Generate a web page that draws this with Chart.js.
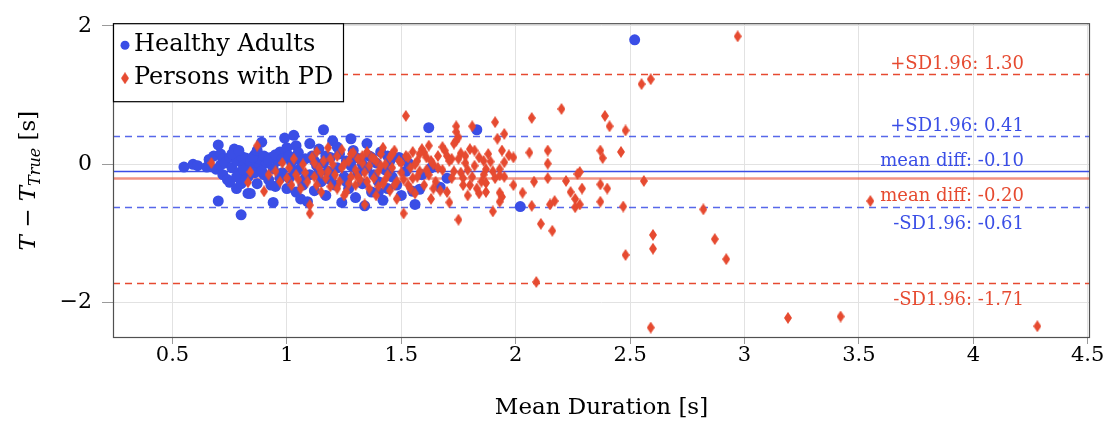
<!DOCTYPE html>
<html><head><meta charset="utf-8">
<script src="https://cdn.jsdelivr.net/npm/chart.js@4.4.1/dist/chart.umd.min.js"></script>
<style>html,body{margin:0;padding:0;background:#fff}</style>
</head><body>
<canvas id="c" width="1110" height="421" style="width:1110px;height:421px;display:block"></canvas>
<script>
// ---------- data ----------
const healthyX = [
0.55,0.59,0.61,0.65,0.66,0.68,0.70,0.71,0.72,0.69,
0.71,0.70,0.72,0.74,0.73,0.75,0.76,0.77,0.75,0.78,
0.80,0.83,0.84,0.80,0.79,0.78,0.80,0.81,0.82,0.83,
0.84,0.85,0.86,0.87,0.88,0.89,0.88,0.90,0.91,0.92,
0.93,0.94,0.94,0.95,0.96,0.97,0.98,0.99,1.00,1.01,
1.02,1.03,1.04,1.05,1.06,1.05,1.07,1.08,1.09,1.10,
1.11,1.12,1.13,1.14,1.15,1.16,1.16,1.17,1.18,1.19,
1.20,1.21,1.22,1.23,1.24,1.25,1.26,1.27,1.28,1.28,
1.29,1.30,1.31,1.32,1.33,1.34,1.35,1.35,1.36,1.37,
1.38,1.39,1.40,1.42,1.41,1.43,1.44,1.45,1.46,1.48,
1.49,1.50,1.52,1.53,1.55,1.56,1.58,1.59,1.62,1.63,
1.67,1.70,1.83,2.02,2.52,
0.76,0.78,0.79,0.81,0.82,0.85,0.86,0.87,0.89,0.90,
0.92,0.93,0.95,0.97,0.98,1.00,1.01,1.03,1.04,1.06,
1.08,1.10,1.12,1.14,1.17,1.19,1.22,1.26,1.30,1.33,
1.37,1.40,1.44];
const healthyY = [
-0.04,0.00,-0.02,-0.04,0.07,0.12,0.28,0.15,0.08,-0.07,
-0.01,-0.53,-0.15,-0.22,0.02,0.10,-0.05,0.22,-0.26,-0.35,
-0.28,-0.42,-0.42,-0.73,-0.12,0.05,0.12,-0.02,0.09,-0.18,
0.03,-0.08,0.14,-0.28,-0.02,0.32,0.08,-0.15,0.02,-0.22,
0.10,-0.55,-0.06,-0.32,0.05,0.18,-0.12,0.38,0.24,-0.20,
0.03,0.42,0.27,0.17,-0.50,-0.08,-0.30,0.08,-0.54,-0.15,
0.12,-0.38,-0.02,0.22,-0.25,0.50,0.02,-0.45,-0.10,0.10,
0.34,-0.30,-0.05,0.15,-0.55,-0.18,0.05,-0.35,0.37,-0.02,
0.20,-0.48,-0.12,0.08,-0.28,-0.60,0.30,-0.05,0.12,-0.40,
-0.15,0.02,-0.25,-0.52,0.18,-0.08,-0.35,0.05,-0.18,-0.30,
0.10,-0.45,-0.10,0.02,-0.39,-0.58,-0.36,-0.15,0.53,-0.05,
-0.33,-0.20,0.50,-0.61,1.80,
0.15,-0.18,0.20,-0.08,-0.22,0.10,-0.12,0.20,-0.10,0.12,
0.06,-0.30,0.14,-0.20,0.08,-0.35,0.12,-0.10,-0.40,0.05,
-0.20,0.30,0.05,-0.12,0.12,-0.22,0.25,-0.25,0.10,0.00,
0.10,-0.40,0.12];
const pdX = [
0.67,0.84,0.83,0.87,0.90,0.92,0.95,0.97,0.98,1.00,
1.01,1.02,1.03,1.04,1.05,1.06,1.07,1.08,1.09,1.10,
1.10,1.11,1.12,1.13,1.13,1.14,1.15,1.16,1.17,1.18,
1.18,1.19,1.20,1.21,1.22,1.23,1.24,1.24,1.25,1.26,
1.27,1.28,1.28,1.29,1.30,1.30,1.31,1.32,1.33,1.34,
1.34,1.35,1.36,1.36,1.37,1.38,1.39,1.39,1.40,1.41,
1.42,1.42,1.43,1.44,1.45,1.45,1.46,1.47,1.48,1.48,
1.49,1.50,1.51,1.52,1.52,1.53,1.54,1.55,1.55,1.56,
1.57,1.58,1.59,1.60,1.60,1.61,1.62,1.62,1.63,1.64,
1.65,1.66,1.67,1.68,1.69,1.70,1.71,1.72,1.72,1.73,
1.74,1.74,1.74,1.75,1.75,1.76,1.76,1.77,1.78,1.79,
1.80,1.81,1.81,1.82,1.83,1.84,1.85,1.86,1.87,1.87,
1.87,1.89,1.90,1.91,1.92,1.93,1.93,1.93,1.94,1.93,
1.94,1.95,1.95,1.95,1.97,1.99,1.99,2.03,2.06,2.07,
2.07,2.08,2.09,2.11,2.14,2.14,2.14,2.15,2.16,2.17,
2.20,2.22,2.24,2.26,2.26,2.27,2.28,2.28,2.29,2.37,
2.37,2.38,2.37,2.39,2.40,2.41,2.46,2.47,2.48,2.48,
2.55,2.56,2.59,2.60,2.60,2.59,2.82,2.87,2.92,2.97,
3.19,3.42,3.55,4.28,
1.66,1.68,1.70,1.71,1.73,1.75,1.77,1.78,1.79,1.80,1.82,1.84,1.86,1.88,1.90,1.91,
1.12,1.15,1.19,1.22,1.25,1.27,1.31,1.33,1.35,1.38,
1.40,1.41,1.43,1.46,1.47,1.50,1.51,1.53,1.54,1.56,
1.57,1.58,1.61,1.63,1.64];
const pdY = [
0.02,-0.11,-0.26,0.27,-0.39,-0.15,-0.10,-0.25,0.02,-0.20,
-0.05,-0.30,0.08,-0.15,-0.22,-0.35,0.00,-0.12,-0.25,-0.71,
-0.59,0.10,-0.18,0.18,-0.30,-0.05,-0.40,0.05,-0.20,0.24,
-0.10,-0.32,0.00,-0.15,0.12,-0.25,0.21,-0.05,-0.45,-0.40,
0.05,0.15,-0.18,0.17,-0.30,-0.08,0.08,-0.22,0.02,-0.58,
-0.12,0.18,-0.35,-0.02,0.10,-0.20,-0.45,0.05,-0.10,0.15,
0.24,-0.28,0.00,-0.15,0.10,-0.38,-0.05,0.20,-0.25,-0.50,
0.05,-0.12,-0.71,0.70,0.12,-0.30,-0.05,0.18,-0.20,-0.42,
0.05,-0.10,0.22,0.17,-0.30,0.10,0.27,-0.15,-0.50,0.00,
-0.25,0.12,-0.38,-0.08,0.20,0.12,-0.55,0.08,-0.20,0.30,
0.55,0.47,0.34,0.39,-0.80,-0.12,0.16,-0.30,0.02,-0.45,
0.22,0.55,-0.18,-0.02,-0.35,0.10,-0.25,0.05,-0.27,-0.07,
-0.40,0.04,-0.68,0.61,0.37,-0.07,-0.41,-0.16,-0.47,-0.54,
0.20,0.44,0.03,-0.18,0.13,0.10,-0.30,-0.41,0.17,0.67,
-0.60,-0.25,-1.70,-0.86,0.20,0.01,-0.20,-0.58,-0.96,-0.53,
0.80,-0.24,-0.40,-0.50,-0.62,-0.14,-0.11,-0.58,-0.35,-0.29,
0.20,0.09,-0.54,0.70,-0.35,0.55,0.18,-0.61,0.49,-1.31,
1.16,-0.24,1.23,-1.02,-1.22,-2.36,-0.65,-1.08,-1.37,1.85,
-2.22,-2.20,-0.53,-2.34,
-0.05,0.25,-0.40,0.05,-0.10,0.08,-0.20,0.12,-0.08,-0.30,0.20,-0.42,-0.15,0.15,-0.10,-0.20,
0.02,-0.12,0.08,-0.35,0.00,-0.28,-0.18,0.12,-0.25,0.08,
-0.32,-0.02,-0.22,0.15,-0.30,0.02,-0.22,0.10,-0.35,0.00,
-0.18,0.15,-0.08,0.05,-0.35];
const seriesNames = ['Healthy Adults', 'Persons with PD'];
const xTicks = [0.5,1,1.5,2,2.5,3,3.5,4,4.5];
const yTicks = [-2,0,2];
const limitValues = [1.30, 0.41, -0.10, -0.20, -0.61, -1.71];
const limitLabels = ['+SD1.96: 1.30','+SD1.96: 0.41','mean diff: -0.10','mean diff: -0.20','-SD1.96: -0.61','-SD1.96: -1.71'];
const limitGroup = [1,0,0,1,0,1];          // 0 = healthy, 1 = PD
const limitIsMean = [false,false,true,true,false,false];

// ---------- styles ----------
const BLUE = '#3a4ee6';
const RED = '#e64a30';
const SERIF = '"DejaVu Serif", "Liberation Serif", serif';
const labelBelow = [false,false,false,true,true,true];

function diamondImg(w,h,color){
  const c=document.createElement('canvas');c.width=w;c.height=h;
  const g=c.getContext('2d');g.fillStyle=color;g.beginPath();
  g.moveTo(w/2,0);g.lineTo(w,h/2);g.lineTo(w/2,h);g.lineTo(0,h/2);g.closePath();g.fill();
  return c;
}
const diamond = diamondImg(8,12,RED);

const toPts = (xs,ys)=>xs.slice(0,Math.min(xs.length,ys.length)).map((x,i)=>({x:x,y:ys[i]}));

const overlay = {
  id:'overlay',
  beforeDatasetsDraw(chart){
    const {ctx, chartArea:a, scales:{y}} = chart;
    ctx.save();
    limitValues.forEach((v,i)=>{
      const py = Math.round(y.getPixelForValue(v))+0.5;
      const col = limitGroup[i]===0 ? BLUE : RED;
      ctx.beginPath();
      if(limitIsMean[i]){
        ctx.setLineDash([]);
        if(limitGroup[i]===1){ctx.strokeStyle='rgba(230,74,48,0.6)';ctx.lineWidth=2.4;}
        else {ctx.strokeStyle=col;ctx.lineWidth=1.3;}
      } else {
        ctx.setLineDash([7,5]);
        ctx.strokeStyle = limitGroup[i]===0 ? 'rgba(58,78,230,0.85)' : col;
        ctx.lineWidth = 1.4;
      }
      ctx.moveTo(a.left,py);ctx.lineTo(a.right,py);ctx.stroke();
    });
    ctx.restore();
  },
  afterDatasetsDraw(chart){
    const {ctx, chartArea:a, scales:{y}} = chart;
    ctx.save();
    // frame
    ctx.strokeStyle='#505050';ctx.lineWidth=1.2;ctx.setLineDash([]);
    ctx.strokeRect(a.left+0.5,a.top+0.5,a.right-a.left-1,a.bottom-a.top-1);
    // limit labels
    ctx.font='18px '+SERIF;ctx.textAlign='right';ctx.textBaseline='middle';
    limitValues.forEach((v,i)=>{
      const py = y.getPixelForValue(v);
      ctx.fillStyle = limitGroup[i]===0 ? BLUE : RED;
      ctx.fillText(limitLabels[i], 1024, labelBelow[i] ? py+18 : py-10);
    });
    // legend
    const lx=a.left, ly=a.top;
    ctx.fillStyle='#fff';ctx.fillRect(lx,ly,230,78);
    ctx.strokeStyle='#000';ctx.lineWidth=1.2;ctx.strokeRect(lx+0.5,ly+0.5,230,78);
    ctx.fillStyle=BLUE;ctx.beginPath();ctx.arc(lx+12,ly+22,4.5,0,Math.PI*2);ctx.fill();
    ctx.drawImage(diamond,lx+8,ly+49);
    ctx.fillStyle='#000';ctx.font='24px '+SERIF;ctx.textAlign='left';ctx.textBaseline='middle';
    ctx.fillText(seriesNames[0],lx+21,ly+22);
    ctx.fillText(seriesNames[1],lx+21,ly+55);
    ctx.restore();
  },
  afterDraw(chart){
    const {ctx, chartArea:a} = chart;
    ctx.save();
    // x title
    ctx.fillStyle='#000';ctx.font='23px '+SERIF;ctx.textAlign='center';ctx.textBaseline='middle';
    ctx.fillText('Mean Duration [s]',(a.left+a.right)/2,408);
    // y title with italics and subscript
    const parts=[
      {t:'T',f:'italic 23px '+SERIF,dy:0},
      {t:' \u2212 ',f:'23px '+SERIF,dy:0},
      {t:'T',f:'italic 23px '+SERIF,dy:0},
      {t:'True',f:'italic 16px '+SERIF,dy:5},
      {t:' [s]',f:'23px '+SERIF,dy:0}];
    let w=0;parts.forEach(p=>{ctx.font=p.f;p.w=ctx.measureText(p.t).width;w+=p.w;});
    ctx.translate(35,(a.top+a.bottom)/2);ctx.rotate(-Math.PI/2);
    ctx.textAlign='left';ctx.textBaseline='alphabetic';
    let x=-w/2;parts.forEach(p=>{ctx.font=p.f;ctx.fillText(p.t,x,p.dy);x+=p.w;});
    ctx.restore();
  }
};

new Chart(document.getElementById('c'),{
  type:'scatter',
  data:{datasets:[
    {label:seriesNames[0],data:toPts(healthyX,healthyY),pointStyle:'circle',pointRadius:5.5,pointHoverRadius:5.5,
     backgroundColor:BLUE,borderWidth:0,order:1},
    {label:seriesNames[1],data:toPts(pdX,pdY),pointStyle:diamond,pointRadius:6,backgroundColor:RED,borderWidth:0,order:0}
  ]},
  options:{
    responsive:false,animation:false,devicePixelRatio:1,
    layout:{padding:{top:19,right:20,left:0,bottom:0}},
    plugins:{legend:{display:false},tooltip:{enabled:false}},
    events:[],
    scales:{
      x:{type:'linear',min:0.24,max:4.51,
        afterBuildTicks:s=>{s.ticks=xTicks.map(v=>({value:v}));},
        afterFit:s=>{s.height=83;},
        ticks:{font:{family:SERIF,size:21},color:'#000',padding:-1,maxRotation:0,autoSkip:false,callback:v=>String(v)},
        grid:{color:'#e2e2e2',tickColor:'#9a9a9a',tickLength:6,lineWidth:1},
        border:{display:false}},
      y:{type:'linear',min:-2.51,max:2.04,
        afterBuildTicks:s=>{s.ticks=yTicks.map(v=>({value:v}));},
        afterFit:s=>{s.width=113;},
        ticks:{font:{family:SERIF,size:22},color:'#000',padding:10,callback:v=>v<0?'\u2212'+Math.abs(v):String(v)},
        grid:{color:'#e2e2e2',tickColor:'#9a9a9a',tickLength:11,lineWidth:1},
        border:{display:false}}
    }
  },
  plugins:[overlay]
});
</script>
</body></html>
